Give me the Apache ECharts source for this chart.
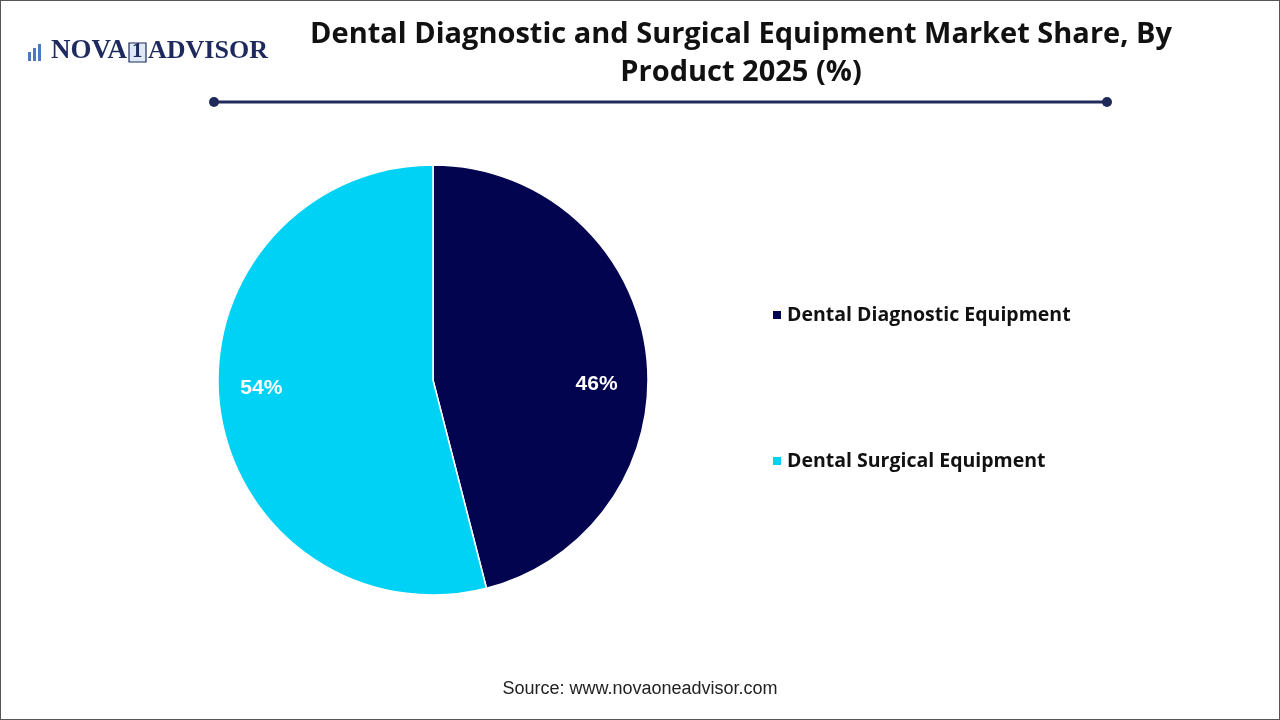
<!DOCTYPE html>
<html>
<head>
<meta charset="utf-8">
<script src="https://cdn.jsdelivr.net/npm/echarts@6/dist/echarts.min.js"></script>
<style>
html,body{margin:0;padding:0;background:#fff;}
#c{width:1278px;height:718px;border:1px solid #555;}
</style>
</head>
<body>
<div id="c"></div>
<script>
const titleText = 'Dental Diagnostic and Surgical Equipment Market Share, By\nProduct 2025 (%)';
const categories = ['Dental Diagnostic Equipment', 'Dental Surgical Equipment'];
const values = [46, 54];
const colors = ['#03044f', '#00d2f5'];
const labelOffsets = [[54, 18], [-62, -6]];
const sourceText = 'Source: www.novaoneadvisor.com';

const chart = echarts.init(document.getElementById('c'));
chart.setOption({
  backgroundColor: '#ffffff',
  title: {
    text: titleText,
    left: 735, top: 10, textAlign: 'center',
    textStyle: {fontFamily: '"Open Sans", sans-serif', fontWeight: 'bold', fontSize: 29, lineHeight: 38, color: '#111'}
  },
  legend: {
    orient: 'vertical',
    left: 765, top: 299,
    itemWidth: 10, itemHeight: 10, itemGap: 126,
    icon: 'rect',
    data: categories,
    textStyle: {fontFamily: '"Open Sans", sans-serif', fontWeight: 'bold', fontSize: 19.5, lineHeight: 20, color: '#111'}
  },
  graphic: [
    {type: 'line', shape: {x1: 213, y1: 101, x2: 1106, y2: 101}, style: {stroke: '#1f2a5a', lineWidth: 3}},
    {type: 'circle', shape: {cx: 213, cy: 101, r: 5}, style: {fill: '#1f2a5a'}},
    {type: 'circle', shape: {cx: 1106, cy: 101, r: 5}, style: {fill: '#1f2a5a'}},
    {type: 'text', left: 'center', top: 679, style: {text: sourceText, font: '18px "Liberation Sans", Arial, sans-serif', fill: '#222'}},
    {type: 'rect', shape: {x: 27, y: 51, width: 3, height: 9}, style: {fill: '#4a78c2'}},
    {type: 'rect', shape: {x: 32, y: 47, width: 3, height: 13}, style: {fill: '#4a78c2'}},
    {type: 'rect', shape: {x: 37, y: 43, width: 3, height: 17}, style: {fill: '#4a78c2'}},
    {type: 'text', left: 50, top: 37, style: {text: 'NOVA', font: 'bold 27px "Liberation Serif", "DejaVu Serif", serif', fill: '#1e2a5e'}},
    {type: 'rect', shape: {x: 128, y: 42, width: 17, height: 19}, style: {fill: '#dfe8f5', stroke: '#1e2a5e', lineWidth: 1.2}},
    {type: 'text', left: 131, top: 40, style: {text: '1', font: 'bold 21px "Liberation Serif", serif', fill: '#1e2a5e'}},
    {type: 'text', left: 147, top: 37, style: {text: 'ADVISOR', font: 'bold 26px "Liberation Serif", "DejaVu Serif", serif', fill: '#1e2a5e'}}
  ],
  series: [{
    type: 'pie',
    center: [432, 379],
    radius: [0, 215],
    startAngle: 90,
    clockwise: true,
    silent: true,
    itemStyle: {borderColor: '#ffffff', borderWidth: 1.5},
    label: {
      position: 'inside',
      formatter: '{c}%',
      fontFamily: 'Arial, "Liberation Sans", sans-serif',
      fontWeight: 'bold', fontSize: 21, color: '#ffffff'
    },
    labelLine: {show: false},
    data: categories.map((name, i) => ({
      name: name, value: values[i],
      itemStyle: {color: colors[i]},
      label: {offset: labelOffsets[i]}
    }))
  }]
});
</script>
</body>
</html>
